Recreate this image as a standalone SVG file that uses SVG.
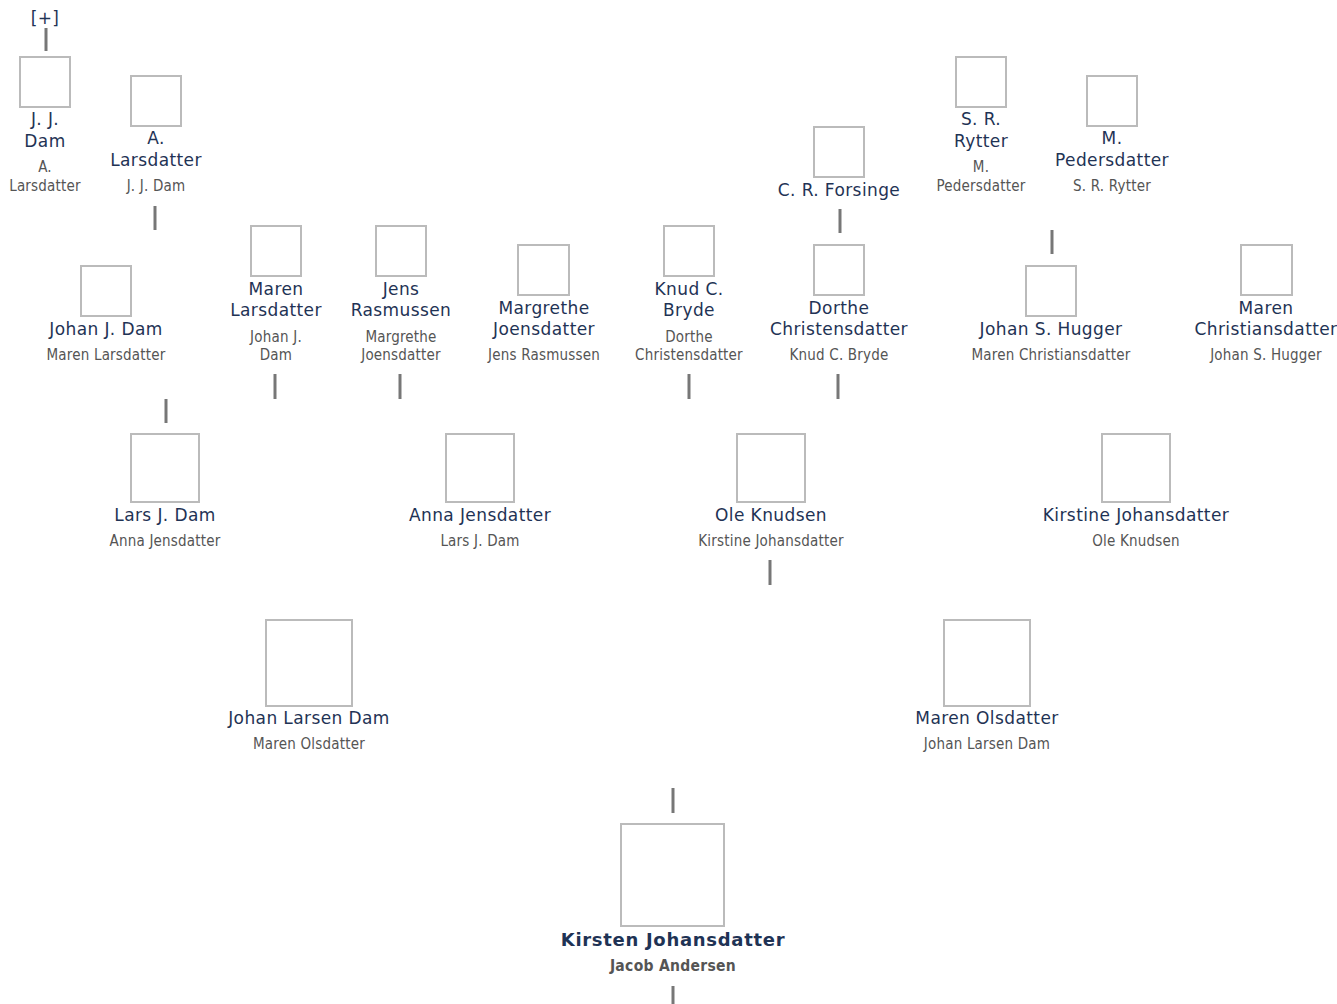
<svg xmlns="http://www.w3.org/2000/svg" width="1337" height="1004" viewBox="0 0 1337 1004">
<style>
.bx{fill:#fff;stroke:#bbb;stroke-width:2}
.nm{font-family:"DejaVu Sans",Verdana,sans-serif;font-size:17px;letter-spacing:0.4px;fill:#1f3355;text-anchor:middle;dominant-baseline:central}
.sp{font-family:"DejaVu Sans Condensed","DejaVu Sans",sans-serif;font-size:15px;letter-spacing:0.2px;fill:#555;text-anchor:middle;dominant-baseline:central}
.nm.b{font-weight:bold;font-size:18px;letter-spacing:0.7px}
.sp.b{font-weight:bold;font-size:15.5px;letter-spacing:0.3px}
.cn line{stroke:#777;stroke-width:3}
</style>
<rect width="1337" height="1004" fill="#fff"/>
<g class="cn" id="connectors">
<line x1="46" y1="28" x2="46" y2="51"/>
<line x1="155" y1="206" x2="155" y2="230"/>
<line x1="840" y1="209" x2="840" y2="233"/>
<line x1="1052" y1="230" x2="1052" y2="254"/>
<line x1="166" y1="399" x2="166" y2="423"/>
<line x1="275" y1="374" x2="275" y2="399"/>
<line x1="400" y1="374" x2="400" y2="399"/>
<line x1="689" y1="374" x2="689" y2="399"/>
<line x1="838" y1="374" x2="838" y2="399"/>
<line x1="770" y1="560" x2="770" y2="585"/>
<line x1="673" y1="788" x2="673" y2="813"/>
<line x1="673" y1="986" x2="673" y2="1004"/>
</g>
<text class="nm" x="45" y="18">[+]</text>
<g id="jjdam"><rect class="bx" x="20" y="57" width="50" height="50"/><text class="nm" x="45" y="119">J. J.</text><text class="nm" x="45" y="141">Dam</text><text class="sp" x="45" y="167">A.</text><text class="sp" x="45" y="186">Larsdatter</text></g>
<g id="alarsdatter"><rect class="bx" x="131" y="76" width="50" height="50"/><text class="nm" x="156" y="138">A.</text><text class="nm" x="156" y="160">Larsdatter</text><text class="sp" x="156" y="186">J. J. Dam</text></g>
<g id="crforsinge"><rect class="bx" x="814" y="127" width="50" height="50"/><text class="nm" x="839" y="190">C. R. Forsinge</text></g>
<g id="srrytter"><rect class="bx" x="956" y="57" width="50" height="50"/><text class="nm" x="981" y="119">S. R.</text><text class="nm" x="981" y="141">Rytter</text><text class="sp" x="981" y="167">M.</text><text class="sp" x="981" y="186">Pedersdatter</text></g>
<g id="mpedersdatter"><rect class="bx" x="1087" y="76" width="50" height="50"/><text class="nm" x="1112" y="138">M.</text><text class="nm" x="1112" y="160">Pedersdatter</text><text class="sp" x="1112" y="186">S. R. Rytter</text></g>
<g id="johanjdam"><rect class="bx" x="81" y="266" width="50" height="50"/><text class="nm" x="106" y="329">Johan J. Dam</text><text class="sp" x="106" y="355">Maren Larsdatter</text></g>
<g id="marenlarsdatter"><rect class="bx" x="251" y="226" width="50" height="50"/><text class="nm" x="276" y="289">Maren</text><text class="nm" x="276" y="310">Larsdatter</text><text class="sp" x="276" y="337">Johan J.</text><text class="sp" x="276" y="355">Dam</text></g>
<g id="jensrasmussen"><rect class="bx" x="376" y="226" width="50" height="50"/><text class="nm" x="401" y="289">Jens</text><text class="nm" x="401" y="310">Rasmussen</text><text class="sp" x="401" y="337">Margrethe</text><text class="sp" x="401" y="355">Joensdatter</text></g>
<g id="margrethe"><rect class="bx" x="518" y="245" width="51" height="50"/><text class="nm" x="544" y="308">Margrethe</text><text class="nm" x="544" y="329">Joensdatter</text><text class="sp" x="544" y="355">Jens Rasmussen</text></g>
<g id="knudcbryde"><rect class="bx" x="664" y="226" width="50" height="50"/><text class="nm" x="689" y="289">Knud C.</text><text class="nm" x="689" y="310">Bryde</text><text class="sp" x="689" y="337">Dorthe</text><text class="sp" x="689" y="355">Christensdatter</text></g>
<g id="dorthe"><rect class="bx" x="814" y="245" width="50" height="50"/><text class="nm" x="839" y="308">Dorthe</text><text class="nm" x="839" y="329">Christensdatter</text><text class="sp" x="839" y="355">Knud C. Bryde</text></g>
<g id="johanshugger"><rect class="bx" x="1026" y="266" width="50" height="50"/><text class="nm" x="1051" y="329">Johan S. Hugger</text><text class="sp" x="1051" y="355">Maren Christiansdatter</text></g>
<g id="marenchristiansdatter"><rect class="bx" x="1241" y="245" width="51" height="50"/><text class="nm" x="1266" y="308">Maren</text><text class="nm" x="1266" y="329">Christiansdatter</text><text class="sp" x="1266" y="355">Johan S. Hugger</text></g>
<g id="larsjdam"><rect class="bx" x="131" y="434" width="68" height="68"/><text class="nm" x="165" y="515">Lars J. Dam</text><text class="sp" x="165" y="541">Anna Jensdatter</text></g>
<g id="annajensdatter"><rect class="bx" x="446" y="434" width="68" height="68"/><text class="nm" x="480" y="515">Anna Jensdatter</text><text class="sp" x="480" y="541">Lars J. Dam</text></g>
<g id="oleknudsen"><rect class="bx" x="737" y="434" width="68" height="68"/><text class="nm" x="771" y="515">Ole Knudsen</text><text class="sp" x="771" y="541">Kirstine Johansdatter</text></g>
<g id="kirstinejohansdatter"><rect class="bx" x="1102" y="434" width="68" height="68"/><text class="nm" x="1136" y="515">Kirstine Johansdatter</text><text class="sp" x="1136" y="541">Ole Knudsen</text></g>
<g id="johanlarsendam"><rect class="bx" x="266" y="620" width="86" height="86"/><text class="nm" x="309" y="718">Johan Larsen Dam</text><text class="sp" x="309" y="744">Maren Olsdatter</text></g>
<g id="marenolsdatter"><rect class="bx" x="944" y="620" width="86" height="86"/><text class="nm" x="987" y="718">Maren Olsdatter</text><text class="sp" x="987" y="744">Johan Larsen Dam</text></g>
<g id="kirstenjohansdatter"><rect class="bx" x="621" y="824" width="103" height="102"/><text class="nm b" x="673" y="939">Kirsten Johansdatter</text><text class="sp b" x="673" y="966">Jacob Andersen</text></g>
</svg>
